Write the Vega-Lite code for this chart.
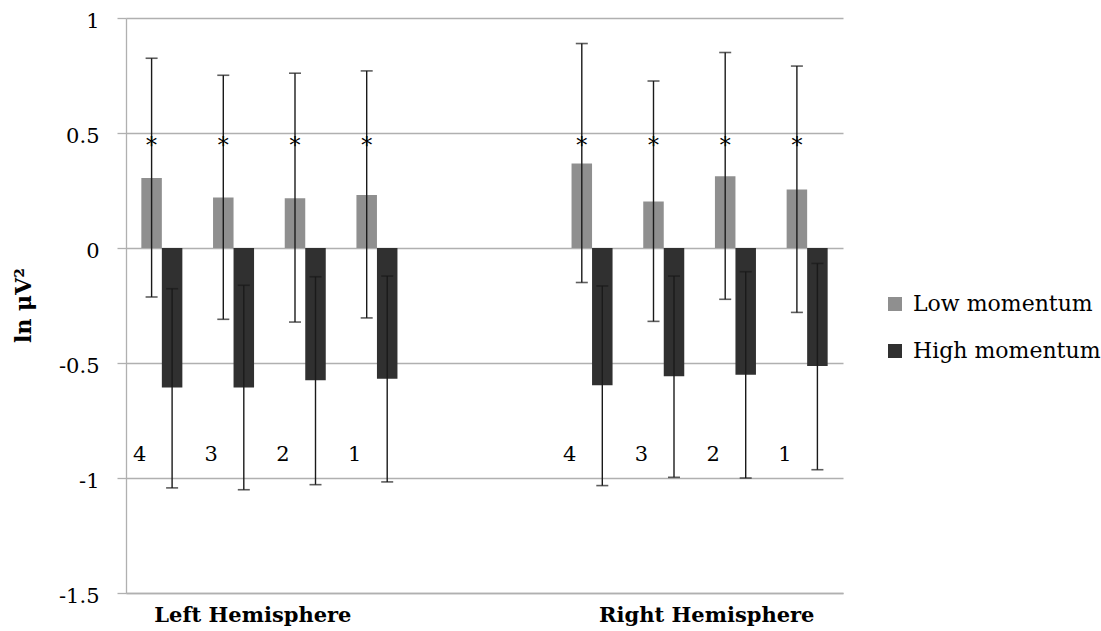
{
  "$schema": "https://vega.github.io/schema/vega-lite/v6.json",
  "autosize": "none",
  "width": 717,
  "height": 575,
  "padding": {"left": 126, "top": 18, "right": 258, "bottom": 38},
  "background": "white",
  "config": {
    "view": {"stroke": null},
    "font": "DejaVu Serif",
    "text": {"font": "DejaVu Serif"}
  },
  "datasets": {
    "power": [
      {"slot": "L4", "electrode": "4", "momentum": "Low momentum", "mean": 0.304, "lo": -0.213, "hi": 0.825},
      {"slot": "L4", "electrode": "4", "momentum": "High momentum", "mean": -0.607, "lo": -1.043, "hi": -0.177},
      {"slot": "L3", "electrode": "3", "momentum": "Low momentum", "mean": 0.220, "lo": -0.310, "hi": 0.751},
      {"slot": "L3", "electrode": "3", "momentum": "High momentum", "mean": -0.606, "lo": -1.051, "hi": -0.162},
      {"slot": "L2", "electrode": "2", "momentum": "Low momentum", "mean": 0.216, "lo": -0.322, "hi": 0.760},
      {"slot": "L2", "electrode": "2", "momentum": "High momentum", "mean": -0.575, "lo": -1.029, "hi": -0.125},
      {"slot": "L1", "electrode": "1", "momentum": "Low momentum", "mean": 0.230, "lo": -0.304, "hi": 0.770},
      {"slot": "L1", "electrode": "1", "momentum": "High momentum", "mean": -0.568, "lo": -1.017, "hi": -0.122},
      {"slot": "R4", "electrode": "4", "momentum": "Low momentum", "mean": 0.367, "lo": -0.150, "hi": 0.889},
      {"slot": "R4", "electrode": "4", "momentum": "High momentum", "mean": -0.597, "lo": -1.033, "hi": -0.165},
      {"slot": "R3", "electrode": "3", "momentum": "Low momentum", "mean": 0.202, "lo": -0.319, "hi": 0.726},
      {"slot": "R3", "electrode": "3", "momentum": "High momentum", "mean": -0.558, "lo": -0.997, "hi": -0.122},
      {"slot": "R2", "electrode": "2", "momentum": "Low momentum", "mean": 0.312, "lo": -0.223, "hi": 0.850},
      {"slot": "R2", "electrode": "2", "momentum": "High momentum", "mean": -0.551, "lo": -1.000, "hi": -0.103},
      {"slot": "R1", "electrode": "1", "momentum": "Low momentum", "mean": 0.254, "lo": -0.280, "hi": 0.791},
      {"slot": "R1", "electrode": "1", "momentum": "High momentum", "mean": -0.513, "lo": -0.964, "hi": -0.067}
    ],
    "hemispheres": [
      {"hemisphere": "Left Hemisphere", "pos": 1.77},
      {"hemisphere": "Right Hemisphere", "pos": 8.1}
    ]
  },
  "layer": [
    {
      "data": {"name": "power"},
      "encoding": {
        "x": {
          "field": "slot",
          "type": "nominal",
          "scale": {
            "domain": ["L4", "L3", "L2", "L1", "gapA", "gapB", "R4", "R3", "R2", "R1"],
            "paddingInner": 0.428,
            "paddingOuter": 0.214
          },
          "axis": {
            "title": null,
            "labels": false,
            "ticks": false,
            "domain": true,
            "domainColor": "#b0b0b0",
            "domainWidth": 1.3
          }
        },
        "xOffset": {
          "field": "momentum",
          "type": "nominal",
          "scale": {"domain": ["Low momentum", "High momentum"], "paddingInner": 0, "paddingOuter": 0}
        }
      },
      "layer": [
        {
          "mark": {"type": "bar"},
          "encoding": {
            "y": {
              "field": "mean",
              "type": "quantitative",
              "scale": {"domain": [-1.5, 1], "nice": false, "zero": false},
              "axis": {
                "title": "ln μV²",
                "titleFont": "DejaVu Serif",
                "titleFontSize": 22,
                "titleFontWeight": "bold",
                "titleColor": "#000000",
                "titleX": -103,
                "titleY": 287,
                "titleAlign": "center",
                "titleBaseline": "middle",
                "values": [-1.5, -1, -0.5, 0, 0.5, 1],
                "labelExpr": "'' + datum.value",
                "labelFont": "DejaVu Serif",
                "labelFontSize": 21,
                "labelColor": "#000000",
                "labelPadding": 18,
                "labelOffset": 3,
                "tickSize": 9,
                "tickColor": "#b0b0b0",
                "tickWidth": 1.3,
                "grid": true,
                "gridColor": "#b0b0b0",
                "gridWidth": 1.3,
                "domainColor": "#b0b0b0",
                "domainWidth": 1.3
              }
            },
            "y2": {"datum": 0},
            "color": {
              "field": "momentum",
              "type": "nominal",
              "scale": {"domain": ["Low momentum", "High momentum"], "range": ["#8f8f8f", "#303030"]},
              "legend": {
                "title": null,
                "orient": "none",
                "legendX": 758,
                "legendY": 275,
                "padding": 0,
                "symbolType": "square",
                "symbolSize": 196,
                "symbolStrokeWidth": 0,
                "labelFont": "DejaVu Serif",
                "labelFontSize": 22,
                "labelColor": "#000000",
                "labelOffset": 7,
                "labelLimit": 400,
                "rowPadding": 25
              }
            }
          }
        },
        {
          "mark": {"type": "rule", "color": "#1a1a1a", "strokeWidth": 1.4},
          "encoding": {
            "y": {"field": "lo", "type": "quantitative"},
            "y2": {"field": "hi"}
          }
        },
        {
          "mark": {"type": "tick", "color": "#1a1a1a", "size": 12, "thickness": 1.6},
          "encoding": {"y": {"field": "lo", "type": "quantitative"}}
        },
        {
          "mark": {"type": "tick", "color": "#1a1a1a", "size": 12, "thickness": 1.6},
          "encoding": {"y": {"field": "hi", "type": "quantitative"}}
        },
        {
          "transform": [{"filter": "datum.momentum == 'Low momentum'"}],
          "mark": {"type": "text", "text": "*", "fontSize": 22, "baseline": "alphabetic", "align": "center", "color": "#000000"},
          "encoding": {"y": {"datum": 0.415}}
        },
        {
          "transform": [{"filter": "datum.momentum == 'Low momentum'"}],
          "mark": {"type": "text", "fontSize": 21, "baseline": "alphabetic", "align": "center", "dx": -12, "color": "#000000"},
          "encoding": {
            "y": {"datum": -0.925},
            "text": {"field": "electrode", "type": "nominal"}
          }
        }
      ]
    },
    {
      "data": {"name": "hemispheres"},
      "mark": {"type": "text", "font": "DejaVu Serif", "fontSize": 21, "fontWeight": "bold", "baseline": "alphabetic", "align": "center", "color": "#000000"},
      "encoding": {
        "x": {"field": "pos", "type": "quantitative", "scale": {"domain": [0, 10]}, "axis": null},
        "y": {"datum": -1.627},
        "text": {"field": "hemisphere", "type": "nominal"}
      }
    }
  ],
  "resolve": {"scale": {"x": "independent"}}
}
